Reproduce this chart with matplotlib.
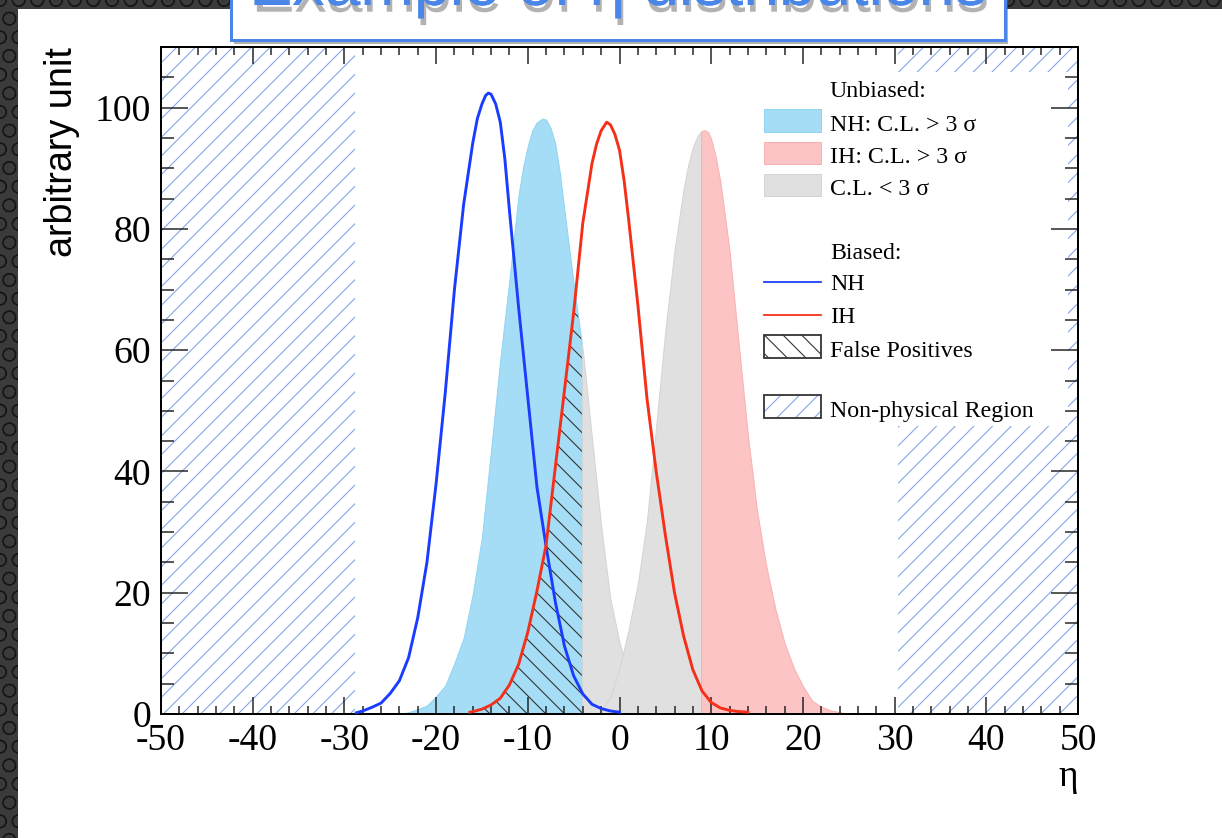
import numpy as np
import matplotlib
matplotlib.use('Agg')
import matplotlib.pyplot as plt
from matplotlib.patches import Rectangle
from matplotlib.ticker import MultipleLocator
import matplotlib.patheffects as pe

# biased NH (blue line)
eta_nh_b = [-28.7, -28, -27, -26, -25, -24, -23, -22, -21, -20, -19, -18, -17, -16, -15.5, -15,
            -14.6, -14.3, -14, -13.5, -13, -12.5, -12, -11, -10, -9, -8, -7, -6, -5, -4, -3, -2, -1, 0]
val_nh_b = [0.2, 0.5, 1.1, 1.8, 3.4, 5.5, 9.3, 15.9, 25.0, 38.0, 53.0, 70.0, 84.0, 94.2, 98.2, 100.6,
            102.0, 102.4, 102.2, 100.6, 97.6, 91.5, 83.0, 67.0, 52.2, 37.4, 27.6, 18.5, 11.2, 6.3, 3.3,
            1.6, 0.9, 0.5, 0.3]

# biased IH (red line)
eta_ih_b = [-16.3, -16, -15, -14, -13, -12, -11, -10, -9, -8, -7, -6, -5, -4, -3, -2.5, -2,
            -1.4, -1, -0.5, 0, 0.5, 1, 2, 3, 4, 5, 6, 7, 8, 9, 10, 11, 12, 13, 14]
val_ih_b = [0.3, 0.4, 0.8, 1.5, 2.6, 4.8, 8.2, 13.5, 20.3, 27.9, 40.7, 53.4, 66.2, 81.0, 90.8, 94.0, 96.2,
            97.6, 97.2, 95.6, 93.0, 88.0, 81.5, 67.5, 52.0, 40.0, 29.5, 20.0, 12.8, 7.3, 3.8, 1.9, 1.0,
            0.6, 0.4, 0.3]

# unbiased NH
eta_nh_u = [-23.3, -23, -22, -21, -20, -19, -18, -17, -16, -15, -14, -13, -12, -11, -10.5, -10, -9.5,
            -9, -8.4, -8, -7.5, -7, -6.5, -6, -5, -4.1, -4, -3, -2, -1, 0, 1, 2, 3, 3.5]
val_nh_u = [0.2, 0.3, 0.8, 1.4, 2.9, 4.7, 8.4, 12.5, 19.8, 29.2, 43.6, 58.5, 71.7, 85.7, 90.3, 93.7, 96.3,
            97.6, 98.2, 98.0, 96.6, 94.0, 89.2, 83.0, 71.0, 61.0, 60.0, 45.5, 31.0, 19.0, 11.8, 6.5,
            3.5, 1.0, 0.3]

# unbiased IH
eta_ih_u = [-2.5, -2, -1, 0, 1, 2, 3, 4, 5, 6, 7, 7.5, 8, 8.5, 8.9, 9.3, 9.7, 10, 10.5, 11, 12, 13, 14,
            15, 16, 17, 18, 19, 20, 21, 22, 23, 24, 24.7]
val_ih_u = [0.1, 0.5, 2.8, 7.5, 14.0, 21.5, 32.0, 47.5, 63.3, 76.5, 86.7, 90.6, 93.5, 95.3, 96.1, 96.3,
            95.9, 94.8, 91.8, 87.8, 76.4, 61.0, 46.0, 33.5, 24.4, 17.3, 11.7, 7.6, 4.6, 2.2, 1.2, 0.6,
            0.3, 0.1]

cut_nh = -4.1      # NH C.L. > 3 sigma below this
cut_ih = 8.9       # IH C.L. > 3 sigma above this
nonphys_lo = -28.8
nonphys_hi = 30.4

leg_labels = ['Unbiased:', 'NH: C.L. > 3 σ', 'IH: C.L. > 3 σ', 'C.L. < 3 σ',
              'Biased:', 'NH', 'IH', 'False Positives', 'Non-physical Region']
leg_kinds = [None, 'cyan', 'pink', 'grey', None, 'blue', 'red', 'fp', 'np']

W, H, DPI = 1222, 838, 112
P = 72 / DPI   # points per pixel

plt.rcParams['axes.unicode_minus'] = False
plt.rcParams['hatch.linewidth'] = 1.1 * P

fig = plt.figure(figsize=(W / DPI, H / DPI), dpi=DPI, facecolor='#3b3b3b')

# slide background
fig.add_artist(Rectangle((0, 0), 1, 1, transform=fig.transFigure, facecolor='#3b3b3b',
                         edgecolor='#161616', hatch='O', lw=0, zorder=-3))
fig.add_artist(Rectangle((18 / W, 0), 1, (H - 9) / H, transform=fig.transFigure,
                         facecolor='white', lw=0, zorder=-2))

L, R, T, B = 161, 1078, 47, 714
ax = fig.add_axes([L / W, (H - B) / H, (R - L) / W, (B - T) / H])
ax.set_facecolor('none')


def axx(px):
    return (px - L) / (R - L)


def axy(py):
    return (B - py) / (B - T)


serif = 'Liberation Serif'
c_cyan, c_pink, c_grey = '#a6ddf6', '#fcc4c4', '#e0e0e0'
e_cyan, e_pink, e_grey = '#8fd4f3', '#f9b0b0', '#d4d4d4'
c_np = '#86a6e6'
c_blue, c_red = '#1a3cff', '#f5301a'

# non-physical regions
ax.axvspan(-50, nonphys_lo, facecolor='none', edgecolor=c_np, hatch='//', lw=0, zorder=0.8)
ax.axvspan(nonphys_hi, 50, facecolor='none', edgecolor=c_np, hatch='//', lw=0, zorder=0.8)

# unbiased distributions
e1, v1 = np.array(eta_nh_u), np.array(val_nh_u)
e2, v2 = np.array(eta_ih_u), np.array(val_ih_u)
m = e1 <= cut_nh
cyan = ax.fill_between(e1[m], 0, v1[m], facecolor=c_cyan, edgecolor=e_cyan, lw=P, zorder=1.2)
m = e1 >= cut_nh
ax.fill_between(e1[m], 0, v1[m], facecolor=c_grey, edgecolor=e_grey, lw=P, zorder=1.2)
m = e2 <= cut_ih
ax.fill_between(e2[m], 0, v2[m], facecolor=c_grey, edgecolor=e_grey, lw=P, zorder=1.2)
m = e2 >= cut_ih
ax.fill_between(e2[m], 0, v2[m], facecolor=c_pink, edgecolor=e_pink, lw=P, zorder=1.2)

# false positives: biased IH inside NH > 3 sigma region
fp = ax.fill_between(eta_ih_b, 0, val_ih_b, facecolor='none', edgecolor='#333333',
                     lw=0, hatch='\\\\', zorder=1.3)
fp.set_clip_path(cyan.get_paths()[0], ax.transData)

# biased curves
ax.plot(eta_nh_b, val_nh_b, color=c_blue, lw=2.9 * P, zorder=3)
ax.plot(eta_ih_b, val_ih_b, color=c_red, lw=2.9 * P, zorder=3)

ax.set_xlim(-50, 50)
ax.set_ylim(0, 110)
ax.xaxis.set_major_locator(MultipleLocator(10))
ax.xaxis.set_minor_locator(MultipleLocator(2))
ax.yaxis.set_major_locator(MultipleLocator(20))
ax.yaxis.set_minor_locator(MultipleLocator(5))
ax.tick_params(which='both', direction='in', top=True, right=True, width=1.5 * P, color='#222222',
               labelsize=37.8 * P)
ax.tick_params(axis='x', which='major', length=16.7 * P, pad=10 * P)
ax.tick_params(axis='x', which='minor', length=8.3 * P)
ax.tick_params(axis='y', which='major', length=26.7 * P, pad=10 * P)
ax.tick_params(axis='y', which='minor', length=12.8 * P)
for lab in ax.get_xticklabels() + ax.get_yticklabels():
    lab.set_family(serif)
for s in ax.spines.values():
    s.set_linewidth(2 * P)

ax.set_xlabel('η', loc='right', fontsize=37.8 * P, family=serif, labelpad=1.1 * P)
ax.set_ylabel('arbitrary unit', loc='top', fontsize=37.8 * P, family='Liberation Sans')
ax.yaxis.set_label_coords(axx(80), 1.0)

# legend (opaque box over the right hatched region)
ax.add_patch(Rectangle((axx(740), axy(426)), axx(1068) - axx(740), axy(72) - axy(426),
                       transform=ax.transAxes, facecolor='white', lw=0, zorder=1.0))
leg_base = [96.7, 130.7, 163.3, 195.0, 259.3, 290.5, 323.3, 356.7, 416.7]
hx0, hx1 = 764, 821
fills = {'cyan': (c_cyan, e_cyan), 'pink': (c_pink, e_pink), 'grey': (c_grey, e_grey)}
for lab, kind, yb in zip(leg_labels, leg_kinds, leg_base):
    ax.text(axx(830), axy(yb), lab, transform=ax.transAxes, va='baseline', ha='left',
            fontsize=23.9 * P, family=serif, zorder=5)
    box = ((axx(hx0), axy(yb + 1)), axx(hx1) - axx(hx0), axy(yb - 21.5) - axy(yb + 1))
    if kind in fills:
        ax.add_patch(Rectangle(*box, transform=ax.transAxes, facecolor=fills[kind][0],
                               edgecolor=fills[kind][1], lw=P, zorder=5))
    elif kind in ('blue', 'red'):
        ax.plot([axx(hx0), axx(hx1)], [axy(yb - 8.5)] * 2, transform=ax.transAxes,
                color=c_blue if kind == 'blue' else c_red, lw=1.8 * P, zorder=5)
    elif kind in ('fp', 'np'):
        hc = '#333333' if kind == 'fp' else c_np
        hs = '\\\\' if kind == 'fp' else '//'
        ax.add_patch(Rectangle(*box, transform=ax.transAxes, facecolor='white', edgecolor=hc,
                               hatch=hs, lw=0, zorder=5))
        ax.add_patch(Rectangle(*box, transform=ax.transAxes, facecolor='none',
                               edgecolor='#333333', lw=1.8 * P, zorder=5.1))

# slide title box
fig.add_artist(Rectangle((231 / W, 1 - 40 / H), 774 / W, 80 / H, transform=fig.transFigure,
                         facecolor='white', edgecolor='#4a86e8', lw=3 * P, zorder=5,
                         path_effects=[pe.withSimplePatchShadow(offset=(3.3 * P, -4.4 * P),
                                                                shadow_rgbFace='#666666', alpha=0.5),
                                       pe.Normal()]))
fig.text(618 / W, 1 - 5 / H, 'Example of η distributions', ha='center', va='baseline',
         fontsize=64.4 * P, color='#4a86e8', family='Liberation Sans', zorder=6,
         path_effects=[pe.withSimplePatchShadow(offset=(2.2 * P, -6.7 * P), shadow_rgbFace='#555555',
                                                alpha=0.45), pe.Normal()])

fig.savefig('out.png', dpi=DPI, facecolor=fig.get_facecolor())
